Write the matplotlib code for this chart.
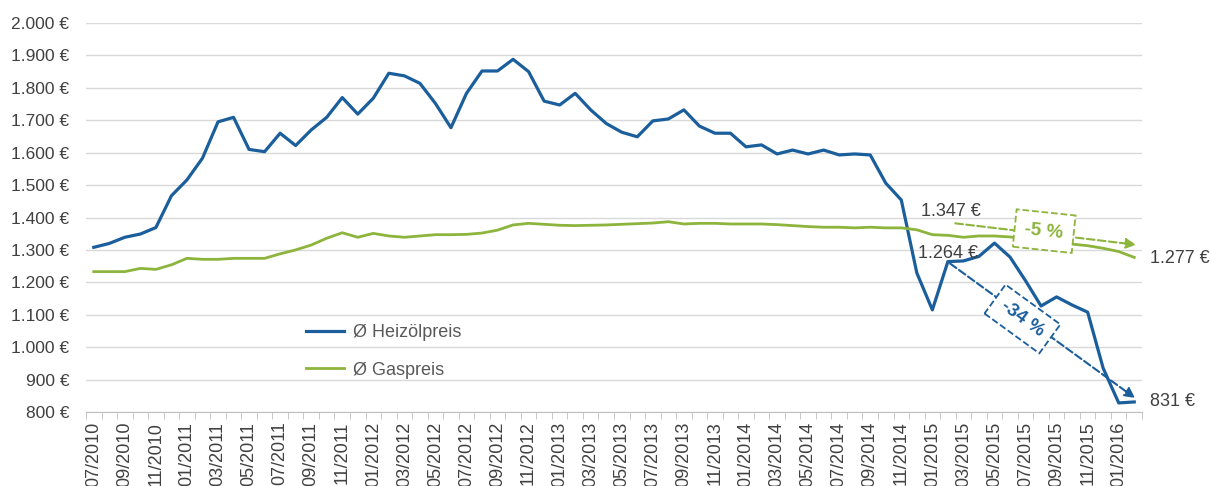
import matplotlib.pyplot as plt
import numpy as np
from matplotlib.ticker import FuncFormatter

plt.rcParams['font.family'] = ['Liberation Sans', 'DejaVu Sans']

# monthly values 07/2010 .. 02/2016
months = []
for year in range(2010, 2017):
    for m in range(1, 13):
        if (year == 2010 and m < 7) or (year == 2016 and m > 2):
            continue
        months.append(f"{m:02d}/{year}")

heizoel = [1308, 1320, 1339, 1349, 1369, 1467, 1516, 1583, 1695, 1709,
           1610, 1603, 1660, 1622, 1670, 1709, 1770, 1719, 1768, 1845,
           1837, 1814, 1752, 1677, 1783, 1852, 1852, 1888, 1850, 1759,
           1747, 1783, 1732, 1690, 1663, 1649, 1698, 1704, 1732, 1682,
           1660, 1660, 1618, 1624, 1596, 1608, 1596, 1608, 1593, 1596,
           1593, 1506, 1454, 1229, 1115, 1264, 1266, 1280, 1321, 1278,
           1205, 1127, 1155, 1130, 1108, 935, 828, 831]

gas = [1233, 1233, 1233, 1243, 1240, 1254, 1274, 1271, 1271, 1274,
       1274, 1274, 1288, 1300, 1315, 1336, 1353, 1339, 1351, 1343,
       1339, 1343, 1347, 1347, 1348, 1352, 1361, 1377, 1382, 1379,
       1376, 1375, 1376, 1377, 1379, 1381, 1383, 1387, 1380, 1382,
       1382, 1380, 1380, 1380, 1378, 1375, 1372, 1370, 1370, 1368,
       1370, 1368, 1368, 1362, 1347, 1345, 1339, 1343, 1343, 1340,
       1335, 1330, 1325, 1318, 1313, 1305, 1295, 1277]

blue = '#1b5e9c'
green = '#8db43c'
grey = '#404040'

fig = plt.figure(figsize=(12.11, 4.86), dpi=100)
ax = fig.add_axes([86 / 1211, 1 - 412 / 486, (1142 - 86) / 1211, (412 - 23) / 486])

x = np.arange(len(months))
ax.plot(x, heizoel, color=blue, lw=2.3, label='Ø Heizölpreis', zorder=3)
ax.plot(x, gas, color=green, lw=2.0, label='Ø Gaspreis', zorder=3)

ax.set_xlim(-0.5, len(months) - 0.5)
ax.set_ylim(800, 2000)
ax.set_yticks(np.arange(800, 2001, 100))
ax.yaxis.set_major_formatter(FuncFormatter(lambda v, p: f"{int(v):,} €".replace(',', '.')))
ax.grid(axis='y', color='#d9d9d9', lw=1)
ax.set_axisbelow(True)

ax.set_xticks(x[::2])
ax.set_xticklabels(months[::2], rotation=90)
ax.set_xticks(np.arange(-0.5, len(months), 1), minor=True)
ax.tick_params(axis='x', which='major', length=0, pad=7, labelsize=13, labelcolor=grey)
ax.tick_params(axis='x', which='minor', length=5, color='#bfbfbf')
ax.tick_params(axis='y', length=0, pad=12, labelsize=12.5, labelcolor=grey)

for s in ['top', 'right', 'left']:
    ax.spines[s].set_visible(False)
ax.spines['bottom'].set_color('#bfbfbf')

ax.legend(loc='upper left', bbox_to_anchor=(297 / 1211, 1 - 315 / 486),
          bbox_transform=fig.transFigure, frameon=False, fontsize=13,
          handlelength=2.1, handletextpad=0.5, labelspacing=1.15, borderpad=0,
          labelcolor='#595959')

# annotations
ax.annotate('', xy=(67.2, 838), xytext=(55, 1263),
            arrowprops=dict(arrowstyle='-|>', color=blue, lw=1.5, ls='--',
                            mutation_scale=15), zorder=4)
ax.annotate('', xy=(67.3, 1315), xytext=(55.3, 1383),
            arrowprops=dict(arrowstyle='-|>', color=green, lw=1.5, ls='--',
                            mutation_scale=15), zorder=4)

ax.text(59.8, 1087, '-34 %', color=blue, fontsize=13.5, fontweight='bold',
        rotation=-36, ha='center', va='center', rotation_mode='anchor', zorder=5,
        bbox=dict(boxstyle='square,pad=0.5', fc='white', ec=blue, ls='--', lw=1.3))
ax.text(61.2, 1358, '-5 %', color=green, fontsize=13.5, fontweight='bold',
        rotation=-6, ha='center', va='center', rotation_mode='anchor', zorder=5,
        bbox=dict(boxstyle='square,pad=0.55', fc='white', ec=green, ls='--', lw=1.3))

ax.text(55.0, 1290, '1.264 €', color=grey, fontsize=13, ha='center', va='center')
ax.text(55.2, 1420, '1.347 €', color=grey, fontsize=13, ha='center', va='center')
ax.text(68.0, 1275, '1.277 €', color=grey, fontsize=13, ha='left', va='center', clip_on=False)
ax.text(68.0, 831, '831 €', color=grey, fontsize=13, ha='left', va='center', clip_on=False)

fig.savefig('out.png', dpi=100)
